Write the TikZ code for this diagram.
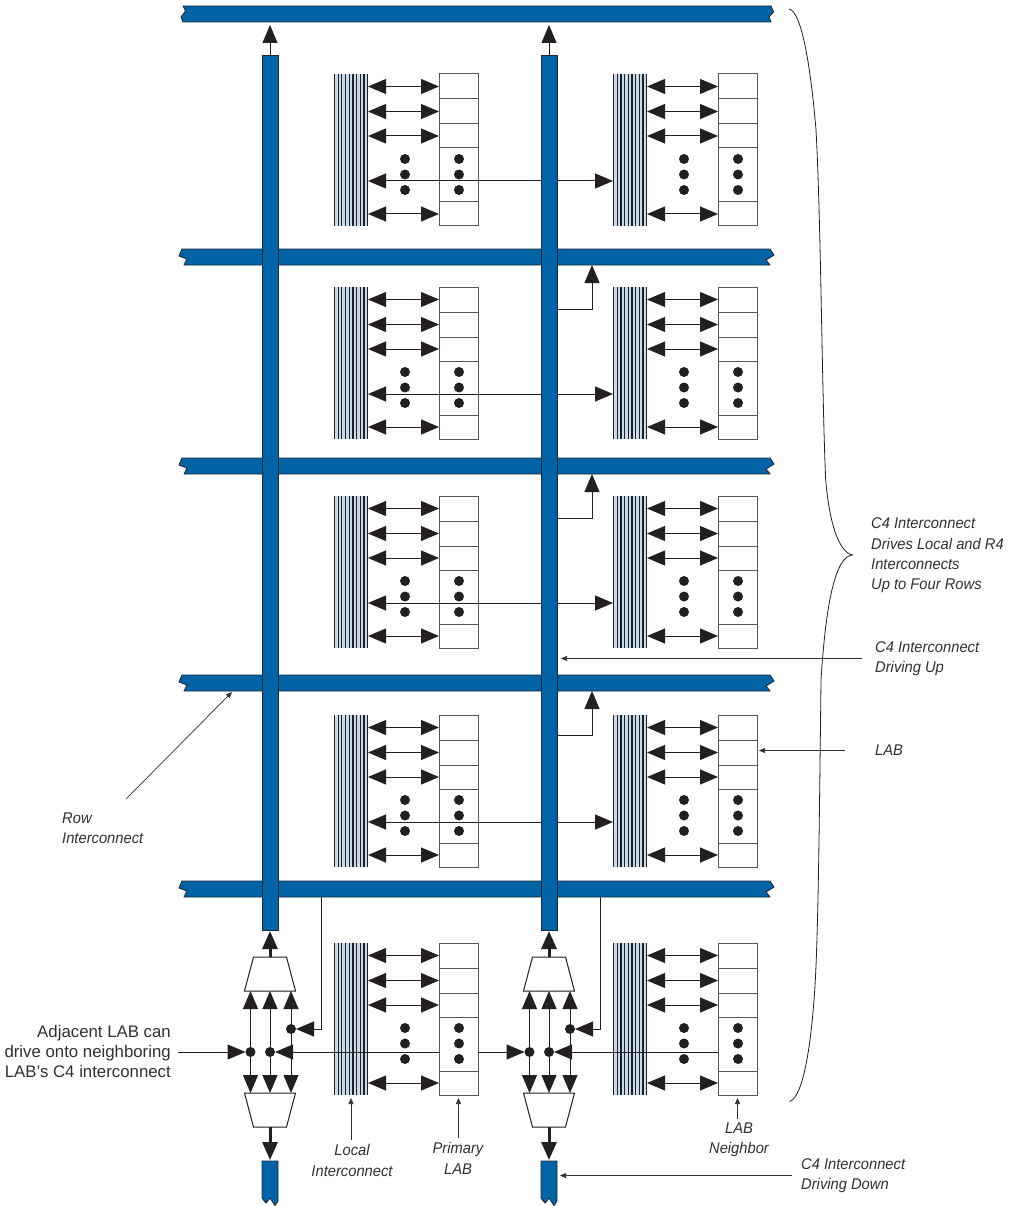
\documentclass[tikz,border=0pt]{standalone}
\usepackage{fontspec}
\setmainfont{Liberation Sans}
\newfontfamily\notefont[FakeStretch=0.95]{Liberation Sans}
\usetikzlibrary{arrows.meta,positioning}

\definecolor{busblue}{HTML}{0063A6}
\definecolor{busedge}{HTML}{1B2A38}
\definecolor{lifill}{HTML}{C6DCEC}
\definecolor{ink}{HTML}{231F20}
\definecolor{notegray}{HTML}{303030}

\tikzset{
  bigtip/.tip={Triangle[length=18pt,width=15pt]},
  smalltip/.tip={Triangle[length=6pt,width=5pt]},
  busline/.style={draw=busedge,fill=busblue,line width=0.9pt,line join=round},
  busnode/.style={rectangle,inner sep=0,outer sep=0},
  lead/.style={draw=ink,line width=1pt,>=bigtip},
  heavylead/.style={draw=ink,line width=3pt,>=bigtip},
  notearrow/.style={draw=notegray,line width=0.7pt,-smalltip},
  labcell/.style={rectangle,draw=ink!75,fill=white,line width=1pt,minimum width=39,inner sep=0,outer sep=0},
  liblock/.style={rectangle,fill=lifill,minimum width=34,minimum height=152,inner sep=0,outer sep=0,
    path picture={\foreach \s in {0,...,9}{
      \draw[ink,line width=1.3pt] ([xshift=0.5+\s*3.67]path picture bounding box.north west)
        -- ([xshift=0.5+\s*3.67]path picture bounding box.south west);}}},
  jdot/.style={circle,fill=ink,minimum size=10,inner sep=0,outer sep=0},
  muxline/.style={draw=ink,fill=white,line width=1pt},
  note/.style={font=\fontsize{15.5}{20.4}\notefont\itshape,text=notegray,align=left,inner sep=0},
  notecenter/.style={note,align=center},
}

% name, left x, top y
\newcommand{\labblock}[3]{
  \node[liblock,anchor=north west] (li#1) at (#2,#3) {};
  \node[labcell,minimum height=25,anchor=north west] (lab#1-1) at (#2+105,#3) {};
  \node[labcell,minimum height=25,below=0pt of lab#1-1] (lab#1-2) {};
  \node[labcell,minimum height=24,below=0pt of lab#1-2] (lab#1-3) {};
  \node[labcell,minimum height=54,below=0pt of lab#1-3] (lab#1-4) {};
  \node[labcell,minimum height=24,below=0pt of lab#1-4] (lab#1-5) {};
  \foreach \k in {1,2,3,5}
    \draw[lead,<->] (li#1.east |- lab#1-\k.west) -- (lab#1-\k.west);
  \foreach \d in {85,100.5,116}{
    \fill[ink] (#2+71,#3+\d) circle (5pt);
    \fill[ink] (#2+125,#3+\d) circle (5pt);
  }
}

\begin{document}
\begin{tikzpicture}[x=1pt,y=-1pt]
  \useasboundingbox (0,0) rectangle (1012,1206);

  % LAB rows
  \foreach \row/\ytop in {1/74,2/287,3/496,4/715,5/943}{
    \labblock{a\row}{334}{\ytop}
    \labblock{b\row}{613}{\ytop}
  }
  \foreach \row/\ytap in {1/181,2/394,3/603,4/822}{
    \coordinate (tap\row) at (400,\ytap);
    \draw[lead,<->] (lia\row.east |- tap\row) -- (lib\row.west |- tap\row);
  }

  % row interconnect
  \node[busnode,minimum width=588,minimum height=16] (bar1) at (477,14) {};
  \draw[busline] (183,6) -- (771,6) -- (773.5,12) -- (769,17) -- (771,22)
    -- (183,22) -- (181,17) -- (185.5,11) -- cycle;
  \foreach \n/\y in {2/249,3/458,4/675,5/881}{
    \node[busnode,minimum width=588,minimum height=16] (bar\n) at (477,\y+8) {};
    \draw[busline] (182,\y) -- (770,\y) -- (774,\y+6) -- (766,\y+11) -- (770,\y+16)
      -- (184,\y+16) -- (187,\y+10) -- (179,\y+7) -- cycle;
  }

  % C4 interconnect and its muxes
  \foreach \col/\xc in {a/270,b/549}{
    \node[rectangle,draw=busedge,fill=busblue,line width=0.9pt,minimum width=16,minimum height=875,
      inner sep=0,outer sep=0] (c4\col) at (\xc,492.5) {};
    \node[busnode,minimum width=16,minimum height=45] (c4\col low) at (\xc,1183.5) {};
    \draw[busline] (\xc-8,1161) -- (\xc+8,1161) -- (\xc+8,1201) -- (\xc+5,1205.5) -- (\xc,1198)
      -- (\xc-4,1203) -- (\xc-8,1198) -- cycle;
    \draw[lead,->,shorten >=3pt] (c4\col.north) -- (c4\col.north |- bar1.south);

    \node[busnode,minimum width=51,minimum height=34] (mup\col) at (\xc,974) {};
    \draw[muxline] (\xc-16.5,957) -- (\xc+16.5,957) -- (\xc+25.5,991) -- (\xc-25.5,991) -- cycle;
    \node[busnode,minimum width=51,minimum height=34] (mdn\col) at (\xc,1110) {};
    \draw[muxline] (\xc-25.5,1093) -- (\xc+25.5,1093) -- (\xc+16.5,1127) -- (\xc-16.5,1127) -- cycle;
    \node[jdot] (jl\col) at (\xc-19.5,1052) {};
    \node[jdot] (jm\col) at (\xc,1052) {};
    \node[jdot] (jr\col) at (\xc+21,1029) {};
    \foreach \j in {jl,jm,jr}{
      \draw[lead,->] (\j\col) -- (\j\col |- mup\col.south);
      \draw[lead,->] (\j\col) -- (\j\col |- mdn\col.north);
    }
    \draw[heavylead,->,shorten >=1pt] (mup\col.north) -- (c4\col.south);
    \draw[heavylead,->,shorten >=1pt] (mdn\col.south) -- (c4\col low.north);
  }

  % C4 drives row
  \draw[lead,->] (c4b.east |- 0,309) -| (592,0 |- bar2.south);
  \draw[lead,->] (c4b.east |- 0,518) -| (592,0 |- bar3.south);
  \draw[lead,->] (c4b.east |- 0,735) -| (592,0 |- bar4.south);
  \draw[lead,->] (321,0 |- bar5.south) |- (jra);
  \draw[lead,->] (600,0 |- bar5.south) |- (jrb);

  % neighbour LAB feeds
  \draw[lead,->] (laba5-4.west |- jma) -- (jma);
  \draw[lead,->] (laba5-4.east |- jlb) -- (jlb);
  \draw[lead,->] (labb5-4.west |- jmb) -- (jmb);

  % labels
  \node[font=\fontsize{16.8}{20}\selectfont,text=notegray,align=right,inner sep=0,anchor=east] (adj) at (171,1051)
    {Adjacent LAB can\\drive onto neighboring\\LAB's C4 interconnect};
  \draw[lead,->,shorten <=7pt] (adj.east |- jla) -- (jla);

  \node[note,anchor=west] (four) at (871,555.5) {C4 Interconnect\\Drives Local and R4\\Interconnects\\Up to Four Rows};
  \draw[draw=ink,line width=0.8pt] (789,9) .. controls (802,11) and (811,70) .. (816,130)
    .. controls (821,220) and (822,400) .. (825.7,480)
    .. controls (829,520) and (838,552) .. (852.5,555)
    .. controls (836,556) and (826,600) .. (821,680)
    .. controls (819,850) and (818,950) .. (814,1000)
    .. controls (811,1040) and (804,1097) .. (789.5,1101.5);

  \node[note,anchor=west] (drvup) at (875,658.5) {C4 Interconnect\\Driving Up};
  \draw[notearrow,shorten <=13pt,shorten >=4pt] (drvup.west) -- (c4b.east |- drvup.west);
  \node[note,anchor=west] (labnote) at (875,750.5) {LAB};
  \draw[notearrow,shorten <=30pt,shorten >=2pt] (labnote.west) -- (labb4-2.east |- labnote.west);
  \node[note,anchor=west] (rownote) at (62,828) {Row\\Interconnect};
  \draw[notearrow] (126,799) -- (232,692);
  \node[notecenter] (localnote) at (352,1160.5) {Local\\Interconnect};
  \draw[notearrow,shorten >=3pt] (localnote.north -| lia5.south) ++(0,-4) -- (lia5.south);
  \node[notecenter] (primnote) at (458,1158.5) {Primary\\LAB};
  \draw[notearrow,shorten >=3pt] (primnote.north -| laba5-5.south) ++(0,-4) -- (laba5-5.south);
  \node[notecenter] (nbrnote) at (739,1140) {LAB\\Neighbor};
  \draw[notearrow,shorten >=3pt] (nbrnote.north -| labb5-5.south) ++(0,-4) -- (labb5-5.south);
  \node[note,anchor=west] (drvdown) at (801,1175.5) {C4 Interconnect\\Driving Down};
  \draw[notearrow,shorten <=9pt,shorten >=3pt] (drvdown.west) -- (c4blow.east |- drvdown.west);
\end{tikzpicture}
\end{document}
